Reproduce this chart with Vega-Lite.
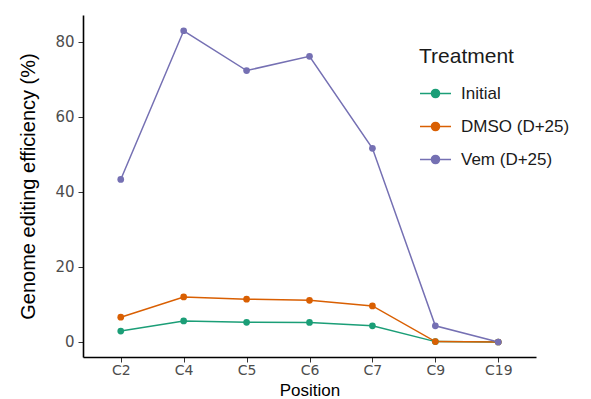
{
  "$schema": "https://vega.github.io/schema/vega-lite/v6.json",
  "autosize": {"type": "none"},
  "width": 453,
  "height": 342,
  "padding": {"left": 83, "top": 15, "right": 55, "bottom": 42},
  "background": "white",
  "config": {
    "view": {"stroke": null},
    "font": "Liberation Sans",
    "axis": {"grid": false, "domainColor": "black", "domainWidth": 1.6, "tickColor": "#333333", "tickSize": 5, "labelColor": "#4d4d4d", "labelFont": "DejaVu Sans", "labelFontSize": 14, "titleColor": "black", "titleFontWeight": "normal", "titleFontSize": 20, "labelPadding": 1}
  },
  "data": {
    "values": [
      {"Position": "C2", "Treatment": "Initial", "Efficiency": 2.9},
      {"Position": "C4", "Treatment": "Initial", "Efficiency": 5.6},
      {"Position": "C5", "Treatment": "Initial", "Efficiency": 5.25},
      {"Position": "C6", "Treatment": "Initial", "Efficiency": 5.2},
      {"Position": "C7", "Treatment": "Initial", "Efficiency": 4.3},
      {"Position": "C9", "Treatment": "Initial", "Efficiency": 0.1},
      {"Position": "C19", "Treatment": "Initial", "Efficiency": 0},
      {"Position": "C2", "Treatment": "DMSO (D+25)", "Efficiency": 6.6},
      {"Position": "C4", "Treatment": "DMSO (D+25)", "Efficiency": 12.0},
      {"Position": "C5", "Treatment": "DMSO (D+25)", "Efficiency": 11.4},
      {"Position": "C6", "Treatment": "DMSO (D+25)", "Efficiency": 11.1},
      {"Position": "C7", "Treatment": "DMSO (D+25)", "Efficiency": 9.6},
      {"Position": "C9", "Treatment": "DMSO (D+25)", "Efficiency": 0.1},
      {"Position": "C19", "Treatment": "DMSO (D+25)", "Efficiency": 0},
      {"Position": "C2", "Treatment": "Vem (D+25)", "Efficiency": 43.3},
      {"Position": "C4", "Treatment": "Vem (D+25)", "Efficiency": 82.9},
      {"Position": "C5", "Treatment": "Vem (D+25)", "Efficiency": 72.3},
      {"Position": "C6", "Treatment": "Vem (D+25)", "Efficiency": 76.1},
      {"Position": "C7", "Treatment": "Vem (D+25)", "Efficiency": 51.6},
      {"Position": "C9", "Treatment": "Vem (D+25)", "Efficiency": 4.3},
      {"Position": "C19", "Treatment": "Vem (D+25)", "Efficiency": 0}
    ]
  },
  "encoding": {
    "x": {
      "field": "Position", "type": "ordinal",
      "scale": {"type": "point", "padding": 0.6, "domain": ["C2", "C4", "C5", "C6", "C7", "C9", "C19"]},
      "axis": {"labelAngle": 0, "title": "Position", "titleFontSize": 17, "titleY": 33, "titleBaseline": "middle"}
    },
    "y": {
      "field": "Efficiency", "type": "quantitative",
      "scale": {"domain": [-4.0, 87.1], "nice": false, "zero": false},
      "axis": {"values": [0, 20, 40, 60, 80], "title": "Genome editing efficiency (%)", "titleX": -55, "titleBaseline": "middle", "labelPadding": 4, "labelFontSize": 15}
    },
    "color": {
      "field": "Treatment", "type": "nominal",
      "scale": {"domain": ["Initial", "DMSO (D+25)", "Vem (D+25)"], "range": ["#1B9E77", "#D95F02", "#7570B3"]},
      "legend": {
        "orient": "none", "legendX": 336, "legendY": 31,
        "title": "Treatment", "titleFontSize": 21, "titleFontWeight": "normal", "titleColor": "#1a1a1a", "titlePadding": 10,
        "labelFontSize": 17, "labelColor": "#1a1a1a", "labelOffset": 9,
        "symbolType": "M-1,0L1,0M0.26,0A0.26,0.26,0,1,1,-0.26,0A0.26,0.26,0,1,1,0.26,0Z",
        "symbolSize": 961, "symbolStrokeWidth": 1.5, "rowPadding": 8,
        "encode": {"symbols": {"update": {"fill": {"scale": "color", "field": "value"}, "stroke": {"scale": "color", "field": "value"}, "fillOpacity": {"value": 1}}}}
      }
    }
  },
  "layer": [
    {"mark": {"type": "line", "strokeWidth": 1.5}, "encoding": {"detail": {"field": "Treatment"}}},
    {"mark": {"type": "circle", "size": 45, "opacity": 1}}
  ]
}
